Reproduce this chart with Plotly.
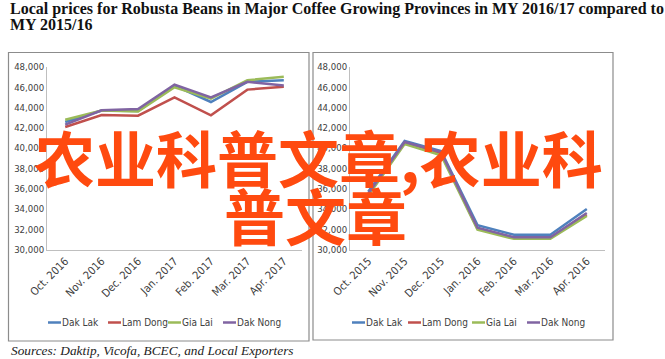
import plotly.graph_objects as go

W, H = 665, 359

title_lines = ["Local prices for Robusta Beans in Major Coffee Growing Provinces in MY 2016/17 compared to",
               "MY 2015/16"]
source_text = "Sources: Daktip, Vicofa, BCEC, and Local Exporters"
watermark = ["农业科普文章,农业科", "普文章"]

provinces = ["Dak Lak", "Lam Dong", "Gia Lai", "Dak Nong"]
colors = ["#4F81BD", "#C0504D", "#9BBB59", "#8064A2"]

months_1617 = ["Oct. 2016", "Nov. 2016", "Dec. 2016", "Jan. 2017", "Feb. 2017", "Mar. 2017", "Apr. 2017"]
months_1516 = ["Oct. 2015", "Nov. 2015", "Dec. 2015", "Jan. 2016", "Feb. 2016", "Mar. 2016", "Apr. 2016"]

# MY 2016/17 (VND/kg)
dak_lak_1617 = [42580, 43700, 43650, 46170, 44550, 46540, 46700]
lam_dong_1617 = [42080, 43270, 43200, 45010, 43230, 45770, 46040]
gia_lai_1617 = [42800, 43700, 43600, 46000, 44880, 46700, 47030]
dak_nong_1617 = [42310, 43730, 43860, 46270, 45010, 46540, 46170]

# MY 2015/16 (VND/kg)
dak_lak_1516 = [35700, 40700, 39700, 32400, 31450, 31450, 34000]
lam_dong_1516 = [35400, 40500, 39500, 32050, 31150, 31150, 33400]
gia_lai_1516 = [35300, 40400, 39300, 31950, 31050, 31050, 33300]
dak_nong_1516 = [35500, 40600, 39600, 32150, 31200, 31200, 33600]

y_ticks = [30000, 32000, 34000, 36000, 38000, 40000, 42000, 44000, 46000, 48000]

left_series = [dak_lak_1617, lam_dong_1617, gia_lai_1617, dak_nong_1617]
right_series = [dak_lak_1516, lam_dong_1516, gia_lai_1516, dak_nong_1516]

fig = go.Figure()
for name, col, vals in zip(provinces, colors, left_series):
    fig.add_trace(go.Scatter(x=months_1617, y=vals, name=name, mode="lines",
                             line=dict(color=col, width=2.5), xaxis="x", yaxis="y",
                             showlegend=False))
for name, col, vals in zip(provinces, colors, right_series):
    fig.add_trace(go.Scatter(x=months_1516, y=vals, name=name, mode="lines",
                             line=dict(color=col, width=2.5), xaxis="x2", yaxis="y2",
                             showlegend=False))

NARROW = "DejaVu Sans Condensed, Liberation Sans, sans-serif"
ytick_font = dict(family=NARROW, size=9.5, color="#404040")
xtick_font = dict(family=NARROW, size=11, color="#404040")

def px_x(p):
    return p / W

def px_y(p):
    return 1 - p / H

ydom = [px_y(249.5), px_y(67)]
axis_common = dict(showgrid=False, zeroline=False, showline=True, linecolor="#BFBFBF",
                   linewidth=1, ticks="", fixedrange=True, automargin=False)
n_cat = len(months_1617)

fig.update_layout(
    width=W, height=H,
    margin=dict(l=0, r=0, t=0, b=0, autoexpand=False),
    paper_bgcolor="white", plot_bgcolor="white",
    xaxis=dict(domain=[px_x(47), px_x(302)], anchor="y", type="category", tickangle=-45,
               range=[-0.5, n_cat - 0.5], tickfont=xtick_font, **axis_common),
    yaxis=dict(domain=ydom, anchor="x", range=[30000, 48000], tickvals=y_ticks,
               tickformat=",d", tickfont=ytick_font, **axis_common),
    xaxis2=dict(domain=[px_x(350), px_x(605)], anchor="y2", type="category", tickangle=-45,
                range=[-0.5, n_cat - 0.5], tickfont=xtick_font, **axis_common),
    yaxis2=dict(domain=ydom, anchor="x2", range=[30000, 48000], tickvals=y_ticks,
                tickformat=",d", tickfont=ytick_font, **axis_common),
    showlegend=False,
)

# panel borders
fig.add_shape(type="rect", xref="paper", yref="paper", x0=px_x(8.5), x1=px_x(309), y0=px_y(341), y1=px_y(52.5),
              line=dict(color="#8C8C8C", width=1.2), layer="below")
fig.add_shape(type="rect", xref="paper", yref="paper", x0=px_x(313), x1=px_x(613), y0=px_y(340), y1=px_y(52.5),
              line=dict(color="#8C8C8C", width=1.2), layer="below")

# legends (one per panel)
legend_left_starts = [48, 108, 168, 223]
legend_right_starts = [352, 408, 472, 527]
for starts in (legend_left_starts, legend_right_starts):
    for name, col, x0 in zip(provinces, colors, starts):
        fig.add_shape(type="line", xref="paper", yref="paper", x0=px_x(x0), x1=px_x(x0 + 13),
                      y0=px_y(322.5), y1=px_y(322.5), line=dict(color=col, width=2.5))
        fig.add_annotation(text=name, xref="paper", yref="paper", x=px_x(x0 + 12), y=px_y(322.5),
                           xanchor="left", yanchor="middle", showarrow=False,
                           font=dict(family=NARROW, size=10, color="#404040"))

SERIF = "Liberation Serif"
# title
fig.add_annotation(text="<b>" + title_lines[0] + "</b>", xref="paper", yref="paper", x=px_x(8), y=px_y(9),
                   xanchor="left", yanchor="middle", showarrow=False,
                   font=dict(family=SERIF, size=16, color="#111"))
fig.add_annotation(text="<b>" + title_lines[1] + "</b>", xref="paper", yref="paper", x=px_x(8), y=px_y(24.5),
                   xanchor="left", yanchor="middle", showarrow=False,
                   font=dict(family=SERIF, size=16, color="#111"))
# source
fig.add_annotation(text="<i>" + source_text + "</i>", xref="paper", yref="paper", x=px_x(9), y=px_y(350),
                   xanchor="left", yanchor="middle", showarrow=False,
                   font=dict(family=SERIF, size=13.3, color="#222"))
# watermark
fig.add_annotation(text="<b>" + watermark[0] + "</b>", xref="paper", yref="paper", x=px_x(318), y=px_y(156),
                   xanchor="center", yanchor="middle", showarrow=False,
                   font=dict(family="Noto Sans CJK SC", size=61, color="#FF4A0F"))
fig.add_annotation(text="<b>" + watermark[1] + "</b>", xref="paper", yref="paper", x=px_x(315), y=px_y(214),
                   xanchor="center", yanchor="middle", showarrow=False,
                   font=dict(family="Noto Sans CJK SC", size=61, color="#FF4A0F"))

fig.write_html("out.html", config={"displayModeBar": False},
               post_script="document.body.style.margin='0';")
